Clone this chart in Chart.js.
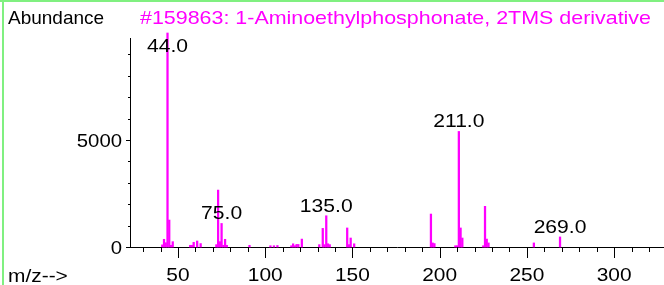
<!DOCTYPE html>
<html>
<head>
<meta charset="utf-8">
<script src="https://cdn.jsdelivr.net/npm/chart.js@4/dist/chart.umd.min.js"></script>
<style>
  html, body { margin: 0; padding: 0; background: #ffffff; }
  #wrap { width: 664px; height: 285px; position: relative; }
</style>
</head>
<body>
<div id="wrap"><canvas id="c" width="664" height="285"></canvas></div>
<script>
// ---- data ----
const mz = [41, 42, 43, 44, 45, 46, 47, 57, 58, 59, 61, 63, 72, 73, 74, 75, 76, 77, 78, 91,
            103, 105, 107, 115, 116, 117, 118, 119, 121, 131, 133, 134, 135, 136, 137,
            147, 148, 149, 151, 195, 196, 197, 209, 210, 211, 212, 213, 225, 226, 227, 228, 254, 269];
const abundance = [100, 360, 200, 10000, 1260, 80, 250, 80, 80, 220, 280, 160, 110, 2660, 250, 1100, 80, 360, 80, 80,
            60, 60, 70, 60, 150, 60, 120, 120, 370, 110, 870, 110, 1460, 150, 110,
            890, 110, 420, 150, 1540, 190, 160, 60, 60, 5400, 890, 420, 60, 1900, 370, 190, 190, 470];
const labelledPeaks = [44, 75, 135, 211, 269];
const xTickLabels = [50, 100, 150, 200, 250, 300];
const yTickLabels = [0, 5000];
const titleText = "#159863: 1-Aminoethylphosphonate, 2TMS derivative";
const yAxisTitle = "Abundance";
const xAxisTitle = "m/z-->";

const FONT = "'Liberation Sans', Arial, Helvetica, sans-serif";
const FS = 19;
const MAG = '#ff00ff';

const points = mz.map((m, i) => ({ x: m, y: abundance[i] }));

// draw text with a horizontal stretch (reference glyphs are slightly wide)
function stretchText(ctx, text, x, y, sx, align) {
  const w = ctx.measureText(text).width * sx;
  let left = x;
  if (align === 'center') left = x - w / 2;
  else if (align === 'right') left = x - w;
  ctx.save();
  ctx.translate(left, y);
  ctx.scale(sx, 1);
  ctx.textAlign = 'left';
  ctx.fillText(text, 0, 0);
  ctx.restore();
}

const decorPlugin = {
  id: 'decor',
  beforeDraw(chart) {
    const ctx = chart.ctx;
    ctx.save();
    ctx.fillStyle = '#ffffff';
    ctx.fillRect(0, 0, chart.width, chart.height);
    ctx.fillStyle = '#80f080';
    ctx.fillRect(0, 0, chart.width, 2);
    ctx.fillRect(2, 0, 2, chart.height);
    ctx.restore();
  },
  afterDraw(chart) {
    const ctx = chart.ctx;
    const xs = chart.scales.x, ys = chart.scales.y;
    const area = chart.chartArea;
    ctx.save();
    ctx.strokeStyle = '#000';
    ctx.lineWidth = 1;
    for (let v = 30; v <= 320; v += 10) {
      const px = Math.round(xs.getPixelForValue(v)) + 0.5;
      const len = (v % 50 === 0) ? 11 : 5;
      ctx.beginPath();
      ctx.moveTo(px, area.bottom);
      ctx.lineTo(px, area.bottom + len);
      ctx.stroke();
    }
    for (let v = 0; v <= 9000; v += 1000) {
      const py = Math.round(ys.getPixelForValue(v)) + 0.5;
      const len = (v % 5000 === 0) ? 4 : 2;
      ctx.beginPath();
      ctx.moveTo(area.left - len, py);
      ctx.lineTo(area.left, py);
      ctx.stroke();
    }
    ctx.font = FS + 'px ' + FONT;
    ctx.fillStyle = '#000';
    ctx.textBaseline = 'alphabetic';
    // tick labels
    xTickLabels.forEach(v => {
      stretchText(ctx, String(v), xs.getPixelForValue(v), 281, 1.1, 'center');
    });
    yTickLabels.forEach(v => {
      stretchText(ctx, String(v), area.left - 8, ys.getPixelForValue(v) + 7, 1.07, 'right');
    });
    // peak labels
    labelledPeaks.forEach(m => {
      const idx = mz.indexOf(m);
      const px = xs.getPixelForValue(m);
      let py = ys.getPixelForValue(abundance[idx]) - 4;
      if (py < 52) py = 52;
      stretchText(ctx, m.toFixed(1), px, py, 1.11, 'center');
    });
    // texts
    stretchText(ctx, yAxisTitle, 8, 24, 1.0, 'left');
    stretchText(ctx, xAxisTitle, 8, 282, 1.1, 'left');
    ctx.fillStyle = MAG;
    const tw = ctx.measureText(titleText).width;
    stretchText(ctx, titleText, 140, 24, 511 / tw, 'left');
    ctx.restore();
  }
};

new Chart(document.getElementById('c'), {
  type: 'bar',
  data: {
    datasets: [{
      data: points,
      backgroundColor: MAG,
      borderWidth: 0,
      barThickness: 1.6,
      clip: false
    }]
  },
  options: {
    responsive: false,
    animation: false,
    events: [],
    layout: { padding: { left: 0, right: 0, top: 38, bottom: 0 } },
    plugins: { legend: { display: false }, tooltip: { enabled: false }, title: { display: false } },
    scales: {
      x: {
        type: 'linear',
        min: 22.5,
        max: 328.6,
        offset: false,
        grid: { display: false, drawTicks: false },
        border: { display: true, color: '#000', width: 1 },
        ticks: { display: false },
        afterBuildTicks: (s) => { s.ticks = xTickLabels.map(v => ({ value: v })); },
        afterFit: (s) => { s.height = 38; }
      },
      y: {
        type: 'linear',
        min: 0,
        max: 9766,
        grid: { display: false, drawTicks: false },
        border: { display: true, color: '#000', width: 1 },
        ticks: { display: false },
        afterBuildTicks: (s) => { s.ticks = yTickLabels.map(v => ({ value: v })); },
        afterFit: (s) => { s.width = 130; }
      }
    }
  },
  plugins: [decorPlugin]
});
</script>
</body>
</html>
